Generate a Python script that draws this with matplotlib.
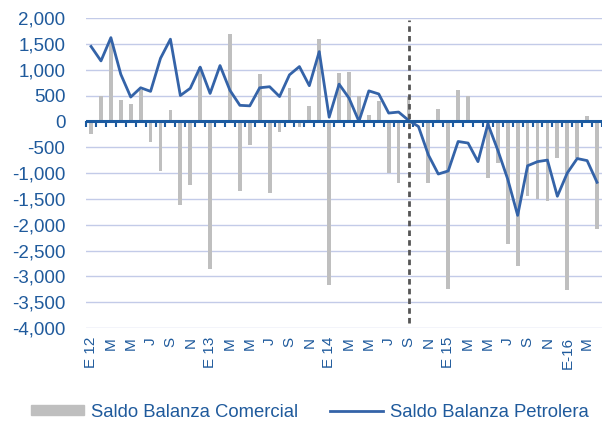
import numpy as np
import matplotlib.pyplot as plt
from matplotlib.lines import Line2D
from matplotlib.patches import Patch

plt.rcParams['font.family'] = ['Liberation Sans', 'DejaVu Sans']

# Datos mensuales, enero 2012 - abril 2016 (millones de dolares)
comercial = [
    -250, 500, 1550, 420, 330, 600, -400, -970, 220, -1610, -1230, 1050,   # 2012
    -2850, 0, 1700, -1350, -450, 920, -1390, -200, 650, -110, 300, 1600,   # 2013
    -3170, 930, 950, 500, 130, 390, -1000, -1190, 480, 0, -1200, 230,      # 2014
    -3250, 600, 490, -40, -1100, -800, -2370, -2800, -1450, -1500, -1550, -700,  # 2015
    -3270, -700, 100, -2080,                                                # 2016
]
petrolera = [
    1450, 1170, 1620, 910, 470, 650, 580, 1220, 1590, 500, 640, 1050,
    540, 1080, 600, 310, 300, 650, 670, 480, 900, 1060, 690, 1350,
    80, 720, 450, 0, 590, 530, 160, 180, 20, -100, -650, -1020,
    -960, -390, -420, -780, -50, -560, -1120, -1820, -860, -780, -750, -1450,
    -1000, -720, -760, -1180,
]
tick_labels = ['E 12', 'M', 'M', 'J', 'S', 'N',
               'E 13', 'M', 'M', 'J', 'S', 'N',
               'E 14', 'M', 'M', 'J', 'S', 'N',
               'E 15', 'M', 'M', 'J', 'S', 'N',
               'E-16', 'M']
corte = 32  # septiembre 2014

azul_txt = '#1F5A9C'
azul_linea = '#3463A8'
azul_eje = '#1B5AA0'
gris = '#BFBFBF'

x = np.arange(len(comercial))

fig = plt.figure(figsize=(6.02, 4.23), dpi=100)
ax = fig.add_axes([0.143, 0.2246, 0.857, 0.7328])

ax.bar(x, comercial, width=0.38, color=gris, zorder=2)
ax.plot(x, petrolera, color=azul_linea, lw=2, zorder=4)
ax.axvline(corte, ymin=0.016, ymax=0.994, color='#555555', lw=2,
           ls=(0, (2, 1.5)), zorder=5)
ax.axhline(0, color=azul_eje, lw=2.2, zorder=6)

ax.set_ylim(-4000, 2000)
ax.set_xlim(-0.5, len(comercial) - 0.5)
ax.set_yticks(np.arange(-4000, 2001, 500))
ax.set_yticklabels([f'{v:,}' for v in range(-4000, 2001, 500)])
ax.grid(axis='y', color='#C3CBE8', lw=1, zorder=0)
ax.tick_params(axis='y', length=0, labelsize=13.5, labelcolor=azul_txt, pad=15)

ax.set_xticks(x[::2])
ax.set_xticklabels(tick_labels, rotation=90)
ax.tick_params(axis='x', length=0, labelsize=11, labelcolor=azul_txt, pad=6.5)

for s in ax.spines.values():
    s.set_visible(False)

# marcas por mes bajo el eje en cero
eje0 = ax.secondary_xaxis(4000 / 6000)
eje0.set_xticks(np.arange(-0.5, len(comercial), 1))
eje0.set_xticklabels([])
eje0.tick_params(axis='x', direction='in', length=4, width=1.5, color=azul_eje)
eje0.spines['bottom'].set_visible(False)

handles = [Patch(color=gris), Line2D([0], [0], color=azul_linea, lw=2)]
fig.legend(handles, ['Saldo Balanza Comercial', 'Saldo Balanza Petrolera'],
           loc='center', bbox_to_anchor=(0.515, 0.026), ncol=2, frameon=False,
           fontsize=13.3, labelcolor=azul_txt, handlelength=2.87, handleheight=0.5,
           columnspacing=1.73, handletextpad=0.38, borderpad=0)

fig.savefig('out.png', dpi=100)
